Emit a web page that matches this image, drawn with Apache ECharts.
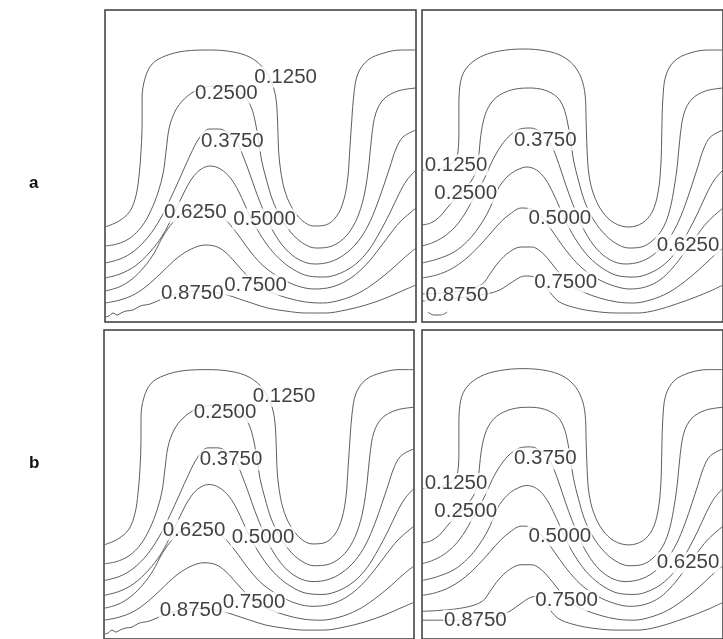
<!DOCTYPE html>
<html><head><meta charset="utf-8">
<script src="https://cdn.jsdelivr.net/npm/echarts@6/dist/echarts.min.js"></script>
<style>html,body{margin:0;padding:0;background:#fff}#c{width:723px;height:639px}</style>
</head><body><div id="c"></div>
<script>
// Contour levels (label text)
const levels = ['0.1250','0.2500','0.3750','0.5000','0.6250','0.7500','0.8750'];
// Panel row labels
const rowLabels = ['a','b'];

// Left panels: contour polylines, [x, y] in panel units (x 0..310, y 0..312 from top)
const aL1 = [[0,217],[14,211],[25,201],[31,185],[34,165],[36,140],[37,110],[37,88],[40,68],[47,54],[60,46],[80,41],[105,40],[128,42],[144,47],[156,56],[165,70],[170,86],[172,110],[173,140],[175,160],[179,180],[186,197],[196,210],[208,216],[220,215],[231,206],[238,190],[242,168],[244,140],[246,110],[248,85],[252,64],[262,50],[278,43],[295,40],[310,40]];
const aL2 = [[0,236],[12,234],[25,228],[37,216],[46,200],[53,182],[58,163],[61,140],[64,118],[70,101],[79,89],[92,80],[110,76],[127,78],[139,86],[146,98],[150,113],[153,130],[156,150],[161,170],[167,190],[175,207],[185,222],[197,233],[210,238],[223,237],[235,231],[245,220],[253,204],[259,182],[263,155],[266,125],[270,103],[278,89],[292,81],[310,78]];
const aL3 = [[0,253],[15,249],[29,241],[43,227],[55,209],[66,187],[76,165],[85,145],[94,128],[104,119],[114,119],[124,124],[132,133],[138,147],[144,163],[151,183],[159,203],[168,222],[180,239],[194,250],[209,254],[224,252],[238,245],[251,233],[262,216],[271,195],[278,175],[284,157],[290,139],[297,127],[310,120]];
const aL4 = [[0,268],[15,264],[30,256],[44,243],[57,226],[68,205],[78,184],[87,168],[96,159],[105,156],[115,159],[125,168],[133,181],[139,194],[145,207],[152,220],[161,234],[173,248],[187,259],[203,266],[219,267],[235,263],[250,254],[263,240],[274,222],[284,203],[293,184],[301,170],[310,160]];
const aL5 = [[0,281],[14,277],[27,269],[39,257],[49,243],[58,226],[68,212],[79,202],[92,198],[104,199],[115,205],[125,215],[135,228],[146,243],[159,257],[175,268],[192,276],[209,279],[226,277],[242,270],[257,258],[270,243],[282,227],[294,212],[310,198]];
const aL6 = [[0,293],[15,290],[30,284],[44,274],[58,261],[72,248],[86,239],[100,235],[112,237],[122,244],[132,255],[142,266],[152,275],[165,282],[182,288],[200,292],[217,293],[235,290],[253,283],[270,272],[286,259],[298,248],[310,238]];
const aL7 = [[0,307],[4,306],[8,303],[12,305],[16,303],[21,301],[28,300],[35,296],[45,294],[57,289],[72,284],[90,281],[108,282],[122,285],[134,289],[146,293],[162,298],[180,301],[200,303],[220,303],[240,300],[260,295],[280,288],[296,281],[310,275]];
// Left panels: label positions [x, y, text]
const aLabels = [[180,67,'0.1250'],[121,83,'0.2500'],[127,131,'0.3750'],[159,209,'0.5000'],[90,202,'0.6250'],[150,275,'0.7500'],[87,283,'0.8750']];

// Right panels: contour polylines
const rL1 = [[0,160],[12,160],[24,157],[33,151],[37,142],[38,120],[38,98],[39,76],[45,59],[60,47],[80,41],[105,39],[128,41],[144,46],[156,55],[164,68],[168,85],[169,110],[170,140],[172,165],[177,185],[186,202],[198,213],[213,217],[227,213],[237,202],[243,183],[246,155],[247,120],[248,90],[251,66],[260,51],[276,43],[295,40],[310,40]];
const rL2 = [[0,215],[9,213],[18,207],[25,199],[33,190],[42,181],[50,172],[55,163],[58,150],[60,130],[63,112],[68,98],[77,87],[92,80],[110,78],[126,80],[139,87],[146,98],[150,113],[153,130],[156,150],[161,170],[167,190],[175,207],[186,222],[199,233],[213,238],[226,237],[237,231],[247,220],[254,204],[259,182],[263,155],[266,125],[270,103],[278,89],[292,81],[310,78]];
const rL3 = [[0,236],[10,233],[22,227],[34,217],[44,204],[52,190],[59,178],[65,167],[70,156],[75,146],[82,135],[91,125],[101,119],[112,118],[122,122],[131,131],[138,146],[144,163],[151,183],[159,203],[168,222],[180,239],[194,250],[209,254],[224,252],[238,245],[251,233],[262,216],[271,195],[278,175],[284,157],[290,139],[297,127],[310,120]];
const rL4 = [[0,253],[16,249],[33,242],[47,231],[58,218],[67,204],[73,191],[77,181],[83,172],[91,164],[100,159],[108,157],[118,160],[127,169],[135,183],[142,198],[150,215],[160,232],[172,247],[187,259],[203,266],[219,267],[235,263],[250,254],[263,240],[274,222],[284,203],[293,184],[301,170],[310,160]];
const rL5 = [[0,268],[15,265],[30,259],[45,249],[58,237],[70,224],[81,212],[92,203],[102,198],[112,199],[122,206],[132,218],[142,232],[153,246],[166,259],[181,269],[198,276],[214,279],[230,277],[245,270],[258,258],[270,243],[282,227],[294,212],[310,198]];
const rL6 = [[0,284],[20,283],[45,280],[62,274],[70,264],[79,252],[90,242],[102,237],[113,237],[124,243],[134,254],[143,265],[153,275],[166,282],[183,288],[201,292],[218,293],[235,290],[253,283],[270,272],[286,259],[298,248],[310,238]];
const rL7 = [[0,291],[20,290],[45,287],[66,284],[80,280],[93,272],[106,266],[118,268],[129,279],[140,291],[155,297],[175,301],[200,303],[222,303],[242,300],[262,294],[282,287],[297,281],[310,275]];
const rSmall = [[6,302],[12,305],[19,305],[26,302]];
const rL7b = [[0,293],[20,293],[40,293],[60,292],[80,289],[92,283],[102,276],[112,270],[120,269],[129,279],[140,291],[155,297],[175,301],[200,303],[222,303],[242,300],[262,294],[282,287],[297,281],[310,275]];
const rLabels = [[35,155,'0.1250'],[45,183,'0.2500'],[127,130,'0.3750'],[142,208,'0.5000'],[274,235,'0.6250'],[148,272,'0.7500'],[36,285,'0.8750']];
const rLabelsB = [[35,155,'0.1250'],[45,183,'0.2500'],[127,130,'0.3750'],[142,208,'0.5000'],[274,235,'0.6250'],[149,273,'0.7500'],[55,293,'0.8750']];

const panels = [
  {lines:[aL1,aL2,aL3,aL4,aL5,aL6,aL7], labels:aLabels},
  {lines:[rL1,rL2,rL3,rL4,rL5,rL6,rL7,rSmall], labels:rLabels},
  {lines:[aL1,aL2,aL3,aL4,aL5,aL6,aL7], labels:aLabels},
  {lines:[rL1,rL2,rL3,rL4,rL5,rL6,rL7b], labels:rLabelsB}
];
const gridBox = [
  {left:105, top:10, width:311, height:312},
  {left:422, top:10, width:310, height:312},
  {left:104, top:330, width:310, height:312},
  {left:422, top:330, width:310, height:312}
];

const series = [];
panels.forEach((p,i)=>{
  p.lines.forEach(arr=>{
    series.push({type:'line', xAxisIndex:i, yAxisIndex:i, data:arr, smooth:0.35,
      symbol:'none', silent:true, z:2,
      lineStyle:{color:'#5e5e5e', width:1}});
  });
  series.push({type:'scatter', xAxisIndex:i, yAxisIndex:i, symbolSize:0, silent:true, z:5,
    data:p.labels.map(l=>({value:[l[0],l[1]], name:l[2]})),
    label:{show:true, position:'inside', formatter:'{b}', fontSize:20.5,
      fontFamily:'"Liberation Sans", Arial, sans-serif', color:'#111111',
      backgroundColor:'#ffffff', padding:[0,1]}});
});

const chart = echarts.init(document.getElementById('c'), null, {renderer:'canvas'});
chart.setOption({
  animation:false,
  backgroundColor:'#ffffff',
  graphic:[
    {type:'text', x:29, y:175, style:{text:rowLabels[0], font:'bold 17px "Liberation Sans", Arial, sans-serif', fill:'#111'}},
    {type:'text', x:29, y:455, style:{text:rowLabels[1], font:'bold 17px "Liberation Sans", Arial, sans-serif', fill:'#111'}}
  ],
  grid: gridBox.map(g=>Object.assign({show:true, borderColor:'#3a3a3a', borderWidth:1.5, backgroundColor:'transparent'}, g)),
  xAxis: gridBox.map((g,i)=>({gridIndex:i, type:'value', min:0, max:310, show:false})),
  yAxis: gridBox.map((g,i)=>({gridIndex:i, type:'value', min:0, max:312, inverse:true, show:false})),
  series: series
});
</script></body></html>
